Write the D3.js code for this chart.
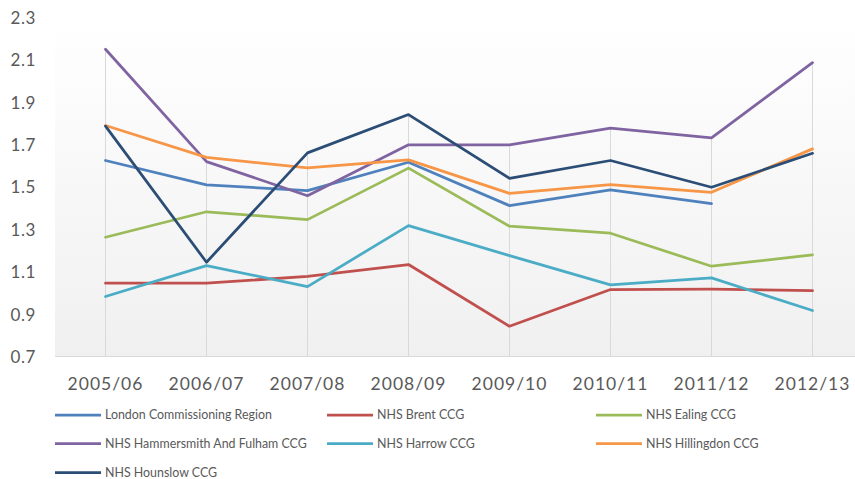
<!DOCTYPE html>
<html>
<head>
<meta charset="utf-8">
<script src="https://cdn.jsdelivr.net/npm/d3@7/dist/d3.min.js"></script>
<style>
  html, body { margin: 0; padding: 0; background: #fff; }
  svg { display: block; }
  text { font-family: Lato, "Open Sans", sans-serif; fill: #595959; }
</style>
</head>
<body>
<svg id="chart" width="855" height="479"></svg>
<script>
const categories = ["2005/06","2006/07","2007/08","2008/09","2009/10","2010/11","2011/12","2012/13"];
const yTicks = [0.7, 0.9, 1.1, 1.3, 1.5, 1.7, 1.9, 2.1, 2.3];

const seriesNames = [
  "London Commissioning Region",
  "NHS Brent CCG",
  "NHS Ealing CCG",
  "NHS Hammersmith And Fulham CCG",
  "NHS Harrow CCG",
  "NHS Hillingdon CCG",
  "NHS Hounslow CCG"
];
const londonValues      = [1.625, 1.510, 1.483, 1.617, 1.412, 1.486, 1.422, null];
const brentValues       = [1.046, 1.046, 1.078, 1.134, 0.843, 1.016, 1.018, 1.011];
const ealingValues      = [1.263, 1.383, 1.346, 1.589, 1.315, 1.282, 1.126, 1.180];
const hammersmithValues = [2.150, 1.620, 1.459, 1.699, 1.699, 1.778, 1.732, 2.087];
const harrowValues      = [0.983, 1.129, 1.030, 1.318, 1.176, 1.038, 1.071, 0.917];
const hillingdonValues  = [1.790, 1.640, 1.590, 1.628, 1.470, 1.511, 1.475, 1.680];
const hounslowValues    = [1.787, 1.145, 1.661, 1.842, 1.541, 1.625, 1.499, 1.659];
const seriesColors = ["#4F81BD","#C0504D","#9BBB59","#8064A2","#4BACC6","#F79646","#2C4D75"];

const seriesValues = [londonValues, brentValues, ealingValues, hammersmithValues, harrowValues, hillingdonValues, hounslowValues];
const series = seriesNames.map((name, i) => ({ name, color: seriesColors[i], values: seriesValues[i] }));

const svg = d3.select("#chart");
const plot = { left: 55, right: 863, top: 17.5, bottom: 356.5 };

const x = d3.scaleBand().domain(categories).range([plot.left, plot.right]);
const cx = c => x(c) + x.bandwidth() / 2;
const y = d3.scaleLinear().domain([0.7, 2.3]).range([plot.bottom, plot.top]);

// gradient background of plot area
const defs = svg.append("defs");
const grad = defs.append("linearGradient").attr("id", "bg").attr("x1", 0).attr("y1", 0).attr("x2", 0).attr("y2", 1);
grad.append("stop").attr("offset", "0%").attr("stop-color", "#ffffff");
grad.append("stop").attr("offset", "100%").attr("stop-color", "#f0f0f0");
svg.append("rect")
  .attr("x", plot.left).attr("y", plot.top)
  .attr("width", 855 - plot.left).attr("height", plot.bottom - plot.top)
  .attr("fill", "url(#bg)");

// drop lines from highest point down to the axis
categories.forEach((c, i) => {
  const vals = series.map(s => s.values[i]).filter(v => v != null);
  const mx = d3.max(vals);
  svg.append("line")
    .attr("x1", cx(c)).attr("x2", cx(c))
    .attr("y1", y(mx)).attr("y2", plot.bottom)
    .attr("stroke", "#d9d9d9").attr("stroke-width", 1);
});

// category axis line
svg.append("line")
  .attr("x1", plot.left).attr("x2", 855)
  .attr("y1", plot.bottom).attr("y2", plot.bottom)
  .attr("stroke", "#d9d9d9").attr("stroke-width", 1.2);

// y axis labels
const yAxis = d3.axisLeft(y).tickValues(yTicks).tickFormat(d3.format(".1f")).tickSize(0).tickPadding(0);
const yg = svg.append("g").attr("transform", "translate(36,0)").call(yAxis);
yg.select(".domain").remove();
yg.selectAll("text")
  .style("font-size", "17px").style("letter-spacing", "0.6px")
  .style("fill", "#595959").attr("dy", "0.35em");

// x axis labels
const xAxis = d3.axisBottom(x).tickSize(0).tickPadding(0);
const xg = svg.append("g").attr("transform", `translate(0,${plot.bottom})`).call(xAxis);
xg.select(".domain").remove();
xg.selectAll("text")
  .style("font-size", "17.5px").style("letter-spacing", "1px")
  .style("fill", "#595959").attr("y", 33.5).attr("dy", 0);

// lines
const line = d3.line()
  .defined(d => d.v != null)
  .x(d => cx(d.c))
  .y(d => y(d.v));

series.forEach(s => {
  const pts = categories.map((c, i) => ({ c, v: s.values[i] }));
  svg.append("path")
    .datum(pts)
    .attr("d", line)
    .attr("fill", "none")
    .attr("stroke", s.color)
    .attr("stroke-width", 2.75)
    .attr("stroke-linejoin", "round")
    .attr("stroke-linecap", "round");
});

// legend
const legendCols = [55, 327, 596];
const legendRows = [415, 443.5, 472.5];
series.forEach((s, i) => {
  const col = i % 3, row = Math.floor(i / 3);
  const g = svg.append("g").attr("transform", `translate(${legendCols[col]},${legendRows[row]})`);
  g.append("line").attr("x1", 0).attr("x2", 46).attr("y1", 0).attr("y2", 0)
    .attr("stroke", s.color).attr("stroke-width", 2.75);
  g.append("text").attr("x", 50).attr("y", 0).attr("dy", "0.36em")
    .style("font-size", "12.4px").text(s.name);
});
</script>
</body>
</html>
